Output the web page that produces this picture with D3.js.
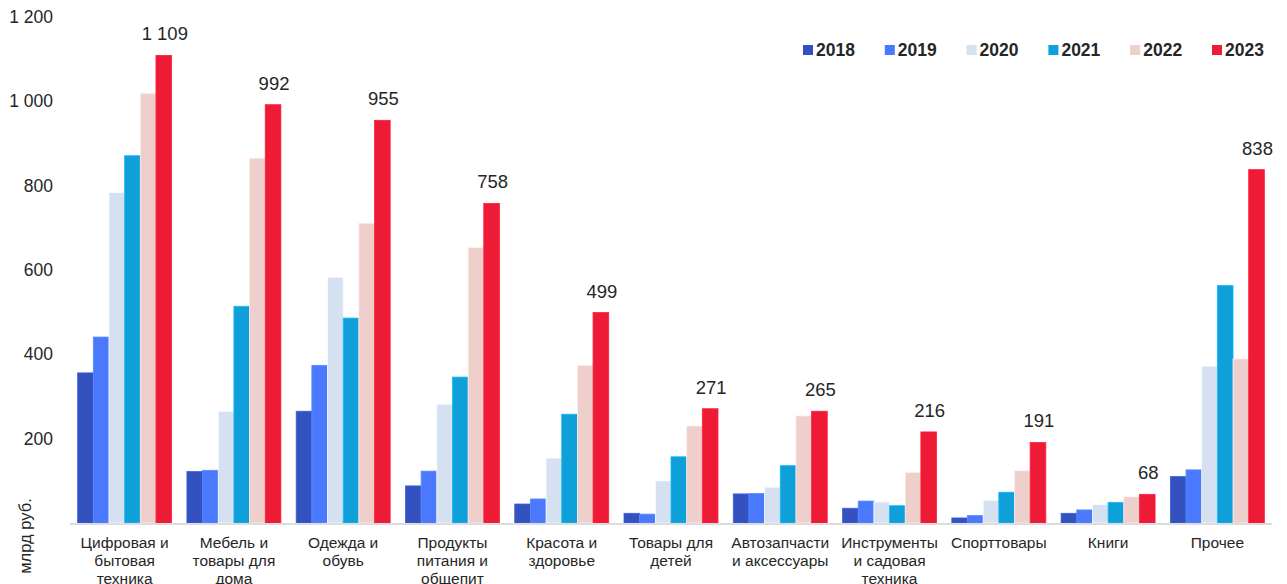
<!DOCTYPE html>
<html lang="ru">
<head>
<meta charset="utf-8">
<script src="https://cdn.jsdelivr.net/npm/d3@7/dist/d3.min.js"></script>
<style>
  html, body { margin: 0; padding: 0; background: #ffffff; }
  svg { display: block; font-family: "Liberation Sans", Arial, sans-serif; }
</style>
</head>
<body>
<svg id="chart" width="1287" height="584"></svg>
<script>
// Категории (подписи по строкам)
const categories = [
  ["Цифровая и", "бытовая", "техника"],
  ["Мебель и", "товары для", "дома"],
  ["Одежда и", "обувь"],
  ["Продукты", "питания и", "общепит"],
  ["Красота и", "здоровье"],
  ["Товары для", "детей"],
  ["Автозапчасти", "и аксессуары"],
  ["Инструменты", "и садовая", "техника"],
  ["Спорттовары"],
  ["Книги"],
  ["Прочее"]
];
const years = ["2018", "2019", "2020", "2021", "2022", "2023"];

// Объём продаж по годам, млрд руб.
const v2018 = [356, 122, 265, 88, 45, 23, 69, 35, 12, 23, 110];
const v2019 = [441, 125, 374, 123, 57, 21, 70, 52, 18, 31, 126];
const v2020 = [784, 265, 583, 282, 154, 100, 85, 50, 54, 44, 372];
const v2021 = [871, 514, 486, 346, 258, 157, 136, 41, 73, 49, 563];
const v2022 = [1019, 865, 711, 653, 374, 230, 254, 120, 124, 62, 389];
const v2023 = [1109, 992, 955, 758, 499, 271, 265, 216, 191, 68, 838];

const yTicks = [200, 400, 600, 800, 1000, 1200];
const colors = ["#3352c0", "#4a79fe", "#d5e0f1", "#0fa0da", "#efcfcb", "#ee1b36"];

const series = [v2018, v2019, v2020, v2021, v2022, v2023];

const svg = d3.select("#chart");
const left = 70, right = 1272, baseY = 523, topY = 17;

const x0 = d3.scaleBand()
  .domain(d3.range(categories.length))
  .range([left, right])
  .paddingInner(0.14)
  .paddingOuter(0.07);

const x1 = d3.scaleBand()
  .domain(years)
  .range([0, x0.bandwidth()]);

const y = d3.scaleLinear().domain([0, 1200]).range([baseY, topY]);

const fmt = v => d3.format(",")(v).replace(/,/g, " ");

// Подписи оси Y
svg.append("g").selectAll("text")
  .data(yTicks)
  .join("text")
  .attr("x", 53)
  .attr("y", d => y(d))
  .attr("dy", "0.35em")
  .attr("text-anchor", "end")
  .attr("font-size", 17.5)
  .attr("fill", "#262626")
  .text(fmt);

// Название оси Y
svg.append("text")
  .attr("transform", `translate(31,536) rotate(-90)`)
  .attr("text-anchor", "middle")
  .attr("font-size", 16.5)
  .attr("fill", "#262626")
  .text("млрд руб.");

// Столбцы
const groups = svg.append("g").selectAll("g")
  .data(categories.map((c, i) => i))
  .join("g")
  .attr("transform", i => `translate(${x0(i)},0)`);

groups.selectAll("rect")
  .data(i => years.map((yr, k) => ({ yr, k, v: series[k][i] })))
  .join("rect")
  .attr("x", d => x1(d.yr))
  .attr("width", x1.bandwidth())
  .attr("y", d => y(d.v))
  .attr("height", d => baseY - y(d.v))
  .attr("fill", d => colors[d.k])
  .attr("stroke", d => d3.color(colors[d.k]).brighter(0.4))
  .attr("stroke-width", 0.8);

// Базовая линия
svg.append("line")
  .attr("x1", left).attr("x2", right)
  .attr("y1", baseY + 1).attr("y2", baseY + 1)
  .attr("stroke", "#dcdcdc")
  .attr("stroke-width", 2);

// Значения 2023 года
groups.append("text")
  .attr("x", x1("2023") + x1.bandwidth() / 2 + 1)
  .attr("y", i => y(v2023[i]) - 15)
  .attr("text-anchor", "middle")
  .attr("font-size", 18.5)
  .attr("fill", "#262626")
  .text(i => fmt(v2023[i]));

// Подписи категорий
groups.append("text")
  .attr("text-anchor", "middle")
  .attr("font-size", 15.5)
  .attr("fill", "#262626")
  .selectAll("tspan")
  .data(i => categories[i].map(line => ({ line, cx: x0.bandwidth() / 2 })))
  .join("tspan")
  .attr("x", d => d.cx)
  .attr("y", (d, j) => 548 + j * 18)
  .text(d => d.line);

// Легенда
const legend = svg.append("g").selectAll("g")
  .data(years)
  .join("g")
  .attr("transform", (d, k) => `translate(${803 + k * 81.8},50)`);

legend.append("rect")
  .attr("x", 0).attr("y", -5)
  .attr("width", 10).attr("height", 10)
  .attr("fill", (d, k) => colors[k]);

legend.append("text")
  .attr("x", 13)
  .attr("dy", "0.36em")
  .attr("font-size", 17.5)
  .attr("font-weight", "bold")
  .attr("fill", "#262626")
  .text(d => d);
</script>
</body>
</html>
